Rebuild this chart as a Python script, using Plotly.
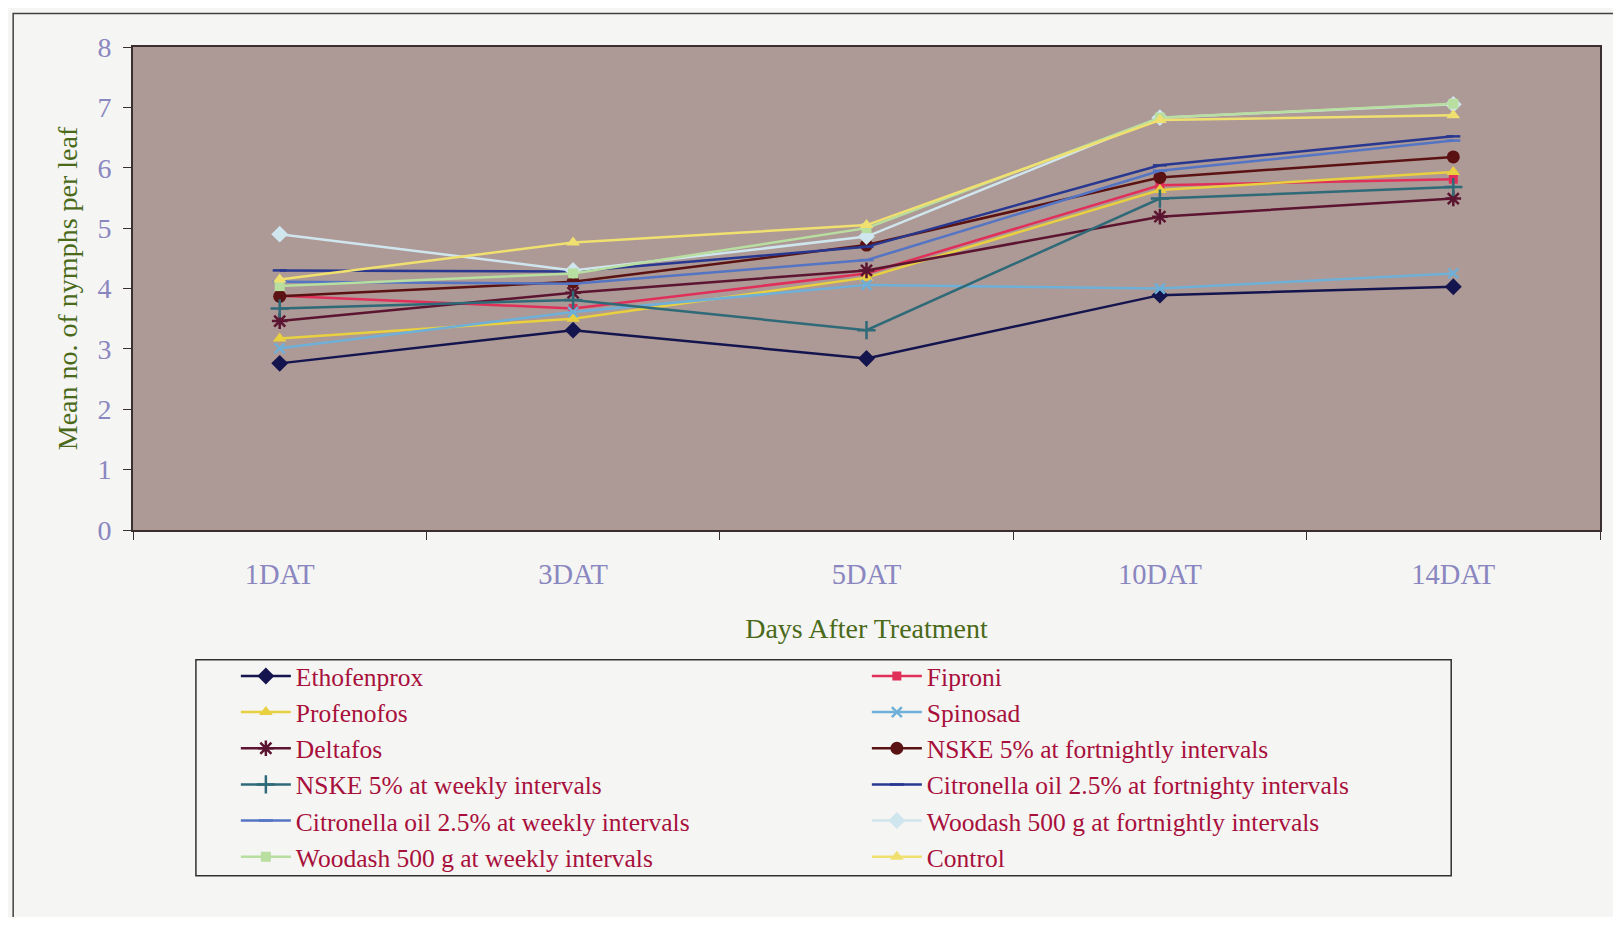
import plotly.graph_objects as go

categories = ["1DAT", "3DAT", "5DAT", "10DAT", "14DAT"]

ethofenprox = [2.76, 3.31, 2.84, 3.89, 4.03]
fipronil = [3.88, 3.67, 4.25, 5.71, 5.81]
profenofos = [3.17, 3.50, 4.18, 5.63, 5.93]
spinosad = [3.01, 3.61, 4.06, 4.00, 4.25]
deltafos = [3.46, 3.93, 4.30, 5.19, 5.49]
nske_fortnightly = [3.87, 4.11, 4.72, 5.84, 6.18]
nske_weekly = [3.67, 3.81, 3.31, 5.49, 5.68]
citronella_fortnightly = [4.30, 4.28, 4.69, 6.04, 6.52]
citronella_weekly = [4.11, 4.08, 4.47, 5.95, 6.45]
woodash_fortnightly = [4.90, 4.30, 4.86, 6.83, 7.05]
woodash_weekly = [4.04, 4.25, 5.00, 6.83, 7.06]
control = [4.15, 4.76, 5.05, 6.79, 6.87]

series = [
    ("Ethofenprox", ethofenprox, "#14144e", "diamond", 13),
    ("Fiproni", fipronil, "#e0305a", "square", 9),
    ("Profenofos", profenofos, "#e8d040", "triangle-up", 12),
    ("Spinosad", spinosad, "#6fb0d8", "x-thin-open", 10),
    ("Deltafos", deltafos, "#5c1530", "asterisk-open", 13),
    ("NSKE 5% at fortnightly intervals", nske_fortnightly, "#5a1212", "circle", 13),
    ("NSKE 5% at weekly intervals", nske_weekly, "#2f6a78", "cross-thin-open", 13),
    ("Citronella oil 2.5% at fortnighty intervals", citronella_fortnightly, "#283890", "line-ew-open", 10),
    ("Citronella oil 2.5% at weekly intervals", citronella_weekly, "#5474c4", "line-ew-open", 10),
    ("Woodash 500 g at fortnightly intervals", woodash_fortnightly, "#cfe6ee", "diamond", 13),
    ("Woodash 500 g at weekly intervals", woodash_weekly, "#b8dea0", "square", 10),
    ("Control", control, "#f0e070", "triangle-up", 12),
]

fig = go.Figure()
for name, vals, color, sym, size in series:
    marker = dict(symbol=sym, size=size, color=color)
    if sym.endswith("-open"):
        marker["line"] = dict(color=color, width=2.5)
    fig.add_trace(go.Scatter(
        x=categories, y=vals, name=name, mode="lines+markers",
        line=dict(color=color, width=2.5), marker=marker,
    ))

serif = "Liberation Serif, Times New Roman, serif"
tick_color = "#8a86c0"
title_color = "#4a6a1a"

# page has an 8px body margin; plot area in page px: x 133..1602, y 46.5..530
OFF = 8
W, H = 1621 - 2 * OFF, 925 - 2 * OFF
L, T = 133 - OFF, 46.5 - OFF
R = W - (1602 - OFF)
B = H - (530 - OFF)
PW = W - L - R
PH = H - T - B


def px_x(p):
    return (p - OFF - L) / PW


def px_y(p):
    return (H - B - (p - OFF)) / PH


fig.update_layout(
    width=W, height=H,
    margin=dict(l=L, r=R, t=T, b=B, pad=0),
    paper_bgcolor="#f5f5f3",
    plot_bgcolor="#ad9995",
    font=dict(family=serif, size=28),
    showlegend=True,
    legend=dict(
        orientation="h",
        x=px_x(236), y=px_y(653), xanchor="left", yanchor="top",
        entrywidth=566, entrywidthmode="pixels",
        itemwidth=50,
        bgcolor="rgba(0,0,0,0)",
        font=dict(family=serif, size=25.5, color="#a8103c"),
        tracegroupgap=0,
    ),
    xaxis=dict(
        type="category", range=[-0.5, 4.5],
        showline=True, linecolor="#3a2e2e", linewidth=2, mirror=True,
        ticks="outside", tickson="boundaries", ticklen=8, tickcolor="#3a2e2e",
        tickfont=dict(family=serif, size=28.5, color=tick_color),
        ticklabelstandoff=18,
        showgrid=False,
        title=dict(text="Days After Treatment",
                   font=dict(family=serif, size=28, color=title_color),
                   standoff=29),
    ),
    yaxis=dict(
        range=[0, 8], dtick=1,
        showline=True, linecolor="#3a2e2e", linewidth=2, mirror=True,
        ticks="outside", ticklen=8, tickcolor="#3a2e2e",
        tickfont=dict(family=serif, size=28, color=tick_color),
        ticklabelstandoff=6,
        showgrid=False, zeroline=False,
        title=dict(text="Mean no. of nymphs per leaf",
                   font=dict(family=serif, size=28, color=title_color),
                   standoff=12),
    ),
    shapes=[
        # legend box
        dict(type="rect", xref="paper", yref="paper",
             x0=px_x(196), x1=px_x(1453), y0=px_y(876), y1=px_y(660),
             line=dict(color="#303030", width=1.5), fillcolor="rgba(0,0,0,0)"),
        # outer chart frame
        dict(type="rect", xref="paper", yref="paper",
             x0=px_x(13), x1=px_x(1660), y0=px_y(960), y1=px_y(13),
             line=dict(color="#404040", width=1.5), fillcolor="rgba(0,0,0,0)"),
    ],
)

fig.write_html("out.html")
